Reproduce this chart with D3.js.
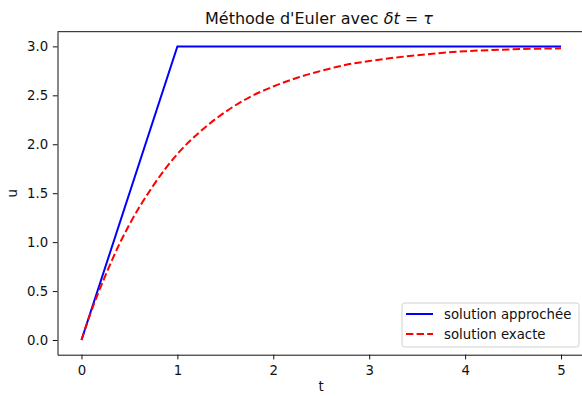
<!DOCTYPE html>
<html>
<head>
<meta charset="utf-8">
<script src="https://cdn.jsdelivr.net/npm/d3@7"></script>
<style>
  body { margin: 0; background: #fff; }
  text { font-family: 'DejaVu Sans', sans-serif; fill: #111; }
</style>
</head>
<body>
<div id="chart"></div>
<script>
// Euler solution (dt = tau)
var eulerT = [0, 1, 2, 3, 4, 5]
var eulerU = [0, 3, 3, 3, 3, 3]

// exact solution
var exactT = [0, 0.1, 0.25, 0.4, 0.5, 0.75, 1, 1.25, 1.5, 1.75, 2, 2.25, 2.5, 2.75, 3, 3.5, 4, 4.5, 5]
var exactU = [0, 0.29, 0.66, 0.99, 1.18, 1.58, 1.90, 2.14, 2.33, 2.48, 2.59, 2.68, 2.75, 2.81, 2.85, 2.91, 2.95, 2.97, 2.98]

var xTicks = [0, 1, 2, 3, 4, 5]
var yTicks = [0, 0.5, 1, 1.5, 2, 2.5, 3]

var width = 582
var height = 396
var margin = { top: 31.7, right: -3, bottom: 41.3, left: 57.5 }

var svg = d3.select('#chart').append('svg')
  .attr('width', width)
  .attr('height', height)

var x = d3.scaleLinear().domain([-0.25, 5.25])
  .range([margin.left, width - margin.right])
var y = d3.scaleLinear().domain([-0.15, 3.15])
  .range([height - margin.bottom, margin.top])

var xAxis = d3.axisBottom(x).tickValues(xTicks).tickSize(4.7).tickSizeOuter(0).tickPadding(4.7)
  .tickFormat(d3.format('d'))
var yAxis = d3.axisLeft(y).tickValues(yTicks).tickSize(4.7).tickSizeOuter(0).tickPadding(4.7)
  .tickFormat(d3.format('.1f'))

var gx = svg.append('g')
  .attr('transform', 'translate(0,' + (height - margin.bottom) + ')')
  .call(xAxis)
var gy = svg.append('g')
  .attr('transform', 'translate(' + margin.left + ',0)')
  .call(yAxis)

;[gx, gy].forEach(function(g) {
  g.selectAll('text').attr('font-size', '13.3px').attr('font-family', 'DejaVu Sans, sans-serif').attr('fill', '#222')
  g.selectAll('line').attr('stroke', '#111').attr('stroke-width', 1)
  g.select('.domain').attr('stroke', '#111').attr('stroke-width', 1)
})
gx.selectAll('text').attr('dy', '0.8em')

// top spine
svg.append('line')
  .attr('x1', margin.left).attr('x2', width)
  .attr('y1', margin.top).attr('y2', margin.top)
  .attr('stroke', '#111').attr('stroke-width', 1)

var lineEuler = d3.line()
  .x(function(d, i) { return x(eulerT[i]) })
  .y(function(d) { return y(d) })
var lineExact = d3.line()
  .x(function(d, i) { return x(exactT[i]) })
  .y(function(d) { return y(d) })
  .curve(d3.curveMonotoneX)

svg.append('path')
  .attr('d', lineEuler(eulerU))
  .attr('fill', 'none')
  .attr('stroke', '#0000ff')
  .attr('stroke-width', 2)

svg.append('path')
  .attr('d', lineExact(exactU))
  .attr('fill', 'none')
  .attr('stroke', '#ff0000')
  .attr('stroke-width', 2)
  .attr('stroke-dasharray', '7.4,3.2')

// title and labels
var title = svg.append('text')
  .attr('x', 319).attr('y', 24)
  .attr('text-anchor', 'middle')
  .attr('font-size', '16px')
title.append('tspan').text("Méthode d'Euler avec ")
title.append('tspan').attr('font-style', 'italic').text('δt')
title.append('tspan').text(' = ')
title.append('tspan').attr('font-style', 'italic').text('τ')

svg.append('text')
  .attr('x', 321).attr('y', 391)
  .attr('text-anchor', 'middle')
  .attr('font-size', '13.3px')
  .text('t')

svg.append('text')
  .attr('transform', 'translate(17,' + y(1.5) + ') rotate(-90)')
  .attr('text-anchor', 'middle')
  .attr('font-size', '13.3px')
  .text('u')

// legend
var legend = svg.append('g').attr('transform', 'translate(402,303)')
legend.append('rect')
  .attr('width', 177).attr('height', 44)
  .attr('rx', 2.5)
  .attr('fill', 'rgba(255,255,255,0.8)')
  .attr('stroke', '#d0d0d0')
  .attr('stroke-width', 1)

var items = [
  { label: 'solution approchée', color: '#0000ff', dash: null },
  { label: 'solution exacte', color: '#ff0000', dash: '7.4,3.2' }
]
items.forEach(function(it, i) {
  var ry = 11 + i * 20
  legend.append('line')
    .attr('x1', 4).attr('x2', 31)
    .attr('y1', ry).attr('y2', ry)
    .attr('stroke', it.color)
    .attr('stroke-width', 2)
    .attr('stroke-dasharray', it.dash)
  legend.append('text')
    .attr('x', 42).attr('y', ry + 4.7)
    .attr('font-size', '13.3px')
    .text(it.label)
})
</script>
</body>
</html>
